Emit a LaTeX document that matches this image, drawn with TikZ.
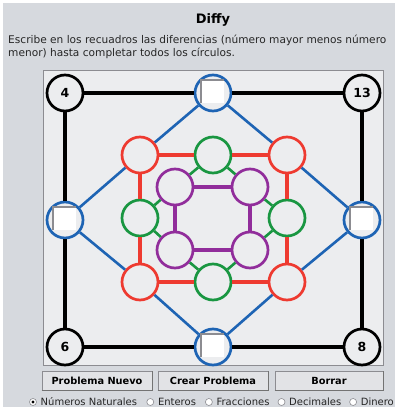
\documentclass[tikz,border=0pt]{standalone}
\usepackage{fontspec}
\setmainfont{DejaVu Sans}
\definecolor{panel}{RGB}{214,217,222}
\definecolor{canvasbg}{RGB}{236,237,239}
\definecolor{frame}{RGB}{140,140,145}
\definecolor{cblue}{RGB}{30,100,180}
\definecolor{cred}{RGB}{238,58,48}
\definecolor{cgreen}{RGB}{25,150,65}
\definecolor{cpurple}{RGB}{145,45,155}
\definecolor{btn}{RGB}{226,227,230}
\tikzset{
  ring/.style={circle, minimum size=36pt, inner sep=0pt, fill=canvasbg, line width=2.7pt},
  cornerc/.style={ring, draw=black, font=\bfseries\fontsize{12.5}{12.5}\selectfont},
  bluec/.style={ring, draw=cblue},
  redc/.style={ring, draw=cred},
  greenc/.style={ring, draw=cgreen},
  purplec/.style={ring, draw=cpurple},
  entry/.style={rectangle, minimum size=23pt, inner sep=0pt, fill=white},
  kline/.style={line width=3.3pt, black},
  bline/.style={line width=2.6pt, cblue},
  rline/.style={line width=3.6pt, cred},
  gline/.style={line width=2.6pt, cgreen},
  pline/.style={line width=3.6pt, cpurple},
  button/.style={rectangle, minimum height=19pt, inner sep=0pt, fill=btn, draw=frame, line width=0.6pt, font=\bfseries\fontsize{9.8}{10}\selectfont},
  radio/.style={circle, minimum size=7pt, inner sep=0pt, fill=white, draw=frame, line width=0.6pt},
  rlabel/.style={anchor=west, inner sep=0pt, font=\fontsize{10}{10}\selectfont, text=black!85},
  instr/.style={anchor=west, inner sep=0pt, font=\fontsize{10.6}{12}\selectfont, text=black!85}
}
\begin{document}
\begin{tikzpicture}[x=1pt,y=-1pt]
\useasboundingbox (0,0) rectangle (407,407);
\fill[white] (0,0) rectangle (407,407);
\fill[panel] (3,3) rectangle (395,407);
\node[font=\bfseries\fontsize{13}{13}\selectfont] (title) at (213,20) {Diffy};
\node[instr] (l1) at (8,40) {Escribe en los recuadros las diferencias (número mayor menos número};
\node[instr] (l2) at (8,53) {menor) hasta completar todos los círculos.};
\filldraw[fill=canvasbg, draw=frame, line width=0.8pt] (43,70) rectangle (383,365);
% corners
\node[cornerc] (c4) at (65,93) {4};
\node[cornerc] (c13) at (362,93) {13};
\node[cornerc] (c6) at (65,347) {6};
\node[cornerc] (c8) at (362,347) {8};
% blue
\node[bluec] (bt) at (213,93) {};
\node[bluec] (bl) at (65,220) {};
\node[bluec] (br) at (362,220) {};
\node[bluec] (bb) at (213,347) {};
% red
\node[redc] (rtl) at (140,155) {};
\node[redc] (rtr) at (287,155) {};
\node[redc] (rbl) at (140,282) {};
\node[redc] (rbr) at (287,282) {};
% green
\node[greenc] (gt) at (213,155) {};
\node[greenc] (gl) at (140,218) {};
\node[greenc] (gr) at (287,218) {};
\node[greenc] (gb) at (213,282) {};
% purple
\node[purplec] (ptl) at (175,187) {};
\node[purplec] (ptr) at (250,187) {};
\node[purplec] (pbl) at (175,250) {};
\node[purplec] (pbr) at (250,250) {};
% entry boxes
\foreach \n in {bt,bl,br,bb}{
  \node[entry] (\n e) at ([shift={(-0.5,-1.5)}]\n.center) {};
  \draw[frame, line width=1.5pt] (\n e.south west) -- (\n e.north west) -- (\n e.north east);
}
% black
\draw[kline] (c4) -- (bt); \draw[kline] (bt) -- (c13);
\draw[kline] (c13) -- (br); \draw[kline] (br) -- (c8);
\draw[kline] (c8) -- (bb); \draw[kline] (bb) -- (c6);
\draw[kline] (c6) -- (bl); \draw[kline] (bl) -- (c4);
% blue
\draw[bline] (bt) -- (rtl); \draw[bline] (rtl) -- (bl);
\draw[bline] (bt) -- (rtr); \draw[bline] (rtr) -- (br);
\draw[bline] (bb) -- (rbl); \draw[bline] (rbl) -- (bl);
\draw[bline] (bb) -- (rbr); \draw[bline] (rbr) -- (br);
% red
\draw[rline] (rtl) -- (gt); \draw[rline] (gt) -- (rtr);
\draw[rline] (rtr) -- (gr); \draw[rline] (gr) -- (rbr);
\draw[rline] (rbr) -- (gb); \draw[rline] (gb) -- (rbl);
\draw[rline] (rbl) -- (gl); \draw[rline] (gl) -- (rtl);
% green
\draw[gline] (gt) -- (ptl); \draw[gline] (gt) -- (ptr);
\draw[gline] (gr) -- (ptr); \draw[gline] (gr) -- (pbr);
\draw[gline] (gb) -- (pbl); \draw[gline] (gb) -- (pbr);
\draw[gline] (gl) -- (ptl); \draw[gline] (gl) -- (pbl);
% purple
\draw[pline] (ptl) -- (ptr); \draw[pline] (ptr) -- (pbr);
\draw[pline] (pbr) -- (pbl); \draw[pline] (pbl) -- (ptl);
% buttons
\node[button, minimum width=110pt] (b1) at (97,381) {Problema Nuevo};
\node[button, minimum width=110pt] (b2) at (213,381) {Crear Problema};
\node[button, minimum width=108pt] (b3) at (329,381) {Borrar};
\foreach \b in {b1,b2,b3}{
  \draw[black!55, line width=1pt] (\b.south west) -- (\b.south east) -- (\b.north east);
}
% radios
\node[radio] (r1) at (33,402) {};
\fill[black] (r1) circle (1.6pt);
\node[rlabel] (t1) at (40.5,402) {Números Naturales};
\node[radio] (r2) at (150.3,402) {};
\node[rlabel] (t2) at (157.8,402) {Enteros};
\node[radio] (r3) at (208.9,402) {};
\node[rlabel] (t3) at (216.4,402) {Fracciones};
\node[radio] (r4) at (281.5,402) {};
\node[rlabel] (t4) at (289,402) {Decimales};
\node[radio] (r5) at (353.1,402) {};
\node[rlabel] (t5) at (360.6,402) {Dinero};
\end{tikzpicture}
\end{document}
